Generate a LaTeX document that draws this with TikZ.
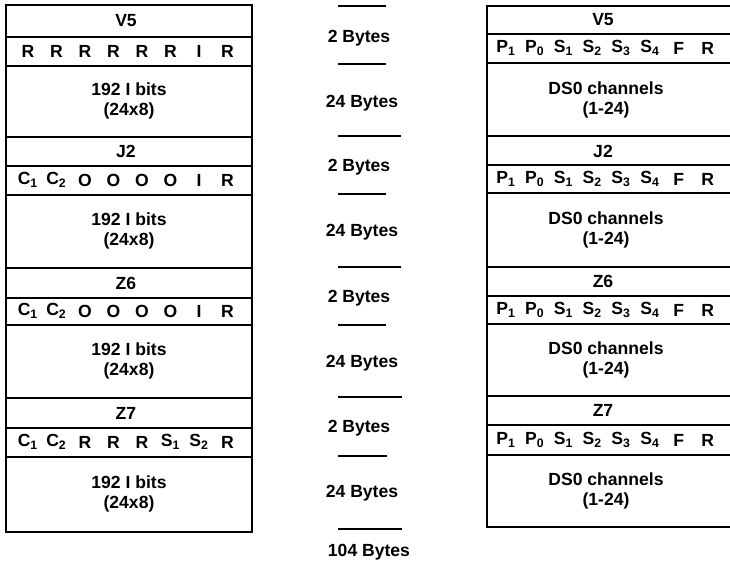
\documentclass[tikz,border=0pt]{standalone}
\usepackage{fontspec}
\setmainfont{Liberation Sans}
\usetikzlibrary{positioning}
\tikzset{
    quadro/.style={draw, line width=1pt},
    divisa/.style={line width=1pt},
    campo/.style={font=\bfseries\fontsize{10}{11.5}\selectfont, inner sep=0pt, align=center},
    bit/.style={campo},
    rotulo/.style={campo},
    marca/.style={line width=0.8pt}
}

\begin{document}
\begin{tikzpicture}[x=0.02cm, y=-0.02cm]
    \clip (0,0) rectangle (730,563);

    % quadro da esquerda (overhead)
    \draw[quadro] (6,5) rectangle (252,532);
    \foreach \y in {37,66,137,166,195,268,298,325,398,428,457}
        \draw[divisa] (6,\y) -- (252,\y);

    \node[campo] (v5e) at (126,21) {V5};
    \node[campo] (j2e) at (126,151) {J2};
    \node[campo] (z6e) at (126,283) {Z6};
    \node[campo] (z7e) at (126,413) {Z7};

    \foreach \b [count=\k from 0] in {R,R,R,R,R,R,I,R}
        \node[bit] at ({28+28.5*\k},51) {\b};
    \foreach \b [count=\k from 0] in {{C\textsubscript{1}},{C\textsubscript{2}},O,O,O,O,I,R}
        \node[bit] at ({28+28.5*\k},180) {\b};
    \foreach \b [count=\k from 0] in {{C\textsubscript{1}},{C\textsubscript{2}},O,O,O,O,I,R}
        \node[bit] at ({28+28.5*\k},311) {\b};
    \foreach \b [count=\k from 0] in {{C\textsubscript{1}},{C\textsubscript{2}},R,R,R,{S\textsubscript{1}},{S\textsubscript{2}},R}
        \node[bit] at ({28+28.5*\k},442) {\b};

    \foreach \y [count=\i] in {101,231,361,494}
        \node[campo] (bits\i) at (129,\y) {192 I bits\\(24x8)};

    % quadro da direita (DS0)
    \draw[quadro] (487,6) rectangle (740,527);
    \foreach \y in {34,63,136,165,193,267,296,324,396,425,455}
        \draw[divisa] (487,\y) -- (740,\y);

    \foreach \t/\ya/\yb/\yc [count=\i] in {V5/20/48/100, J2/151/179/230, Z6/281/310/360, Z7/410/440/491} {
        \node[campo] (cab\i) at (603,\ya) {\t};
        \foreach \b [count=\k from 0] in {{P\textsubscript{1}},{P\textsubscript{0}},{S\textsubscript{1}},{S\textsubscript{2}},{S\textsubscript{3}},{S\textsubscript{4}},F,R}
            \node[bit] at ({506+28.8*\k},\yb) {\b};
        \node[campo] (ds\i) at (606,\yc) {DS0 channels\\(1-24)};
    }

    % coluna do meio
    \foreach \y/\xb in {6/386, 64/386, 136/401, 194/386, 267/401, 325/386, 397/402, 456/387, 529/402}
        \draw[marca] (338,\y) -- (\xb,\y);

    \node[rotulo] (b1) at (359,38) {2 Bytes};
    \node[rotulo] (b2) at (362,103) {24 Bytes};
    \node[rotulo] (b3) at (359,167) {2 Bytes};
    \node[rotulo] (b4) at (362,232) {24 Bytes};
    \node[rotulo] (b5) at (359,298) {2 Bytes};
    \node[rotulo] (b6) at (362,363) {24 Bytes};
    \node[rotulo] (b7) at (359,428) {2 Bytes};
    \node[rotulo] (b8) at (362,493) {24 Bytes};
    \node[rotulo] (total) at (369,552) {104 Bytes};
\end{tikzpicture}
\end{document}
